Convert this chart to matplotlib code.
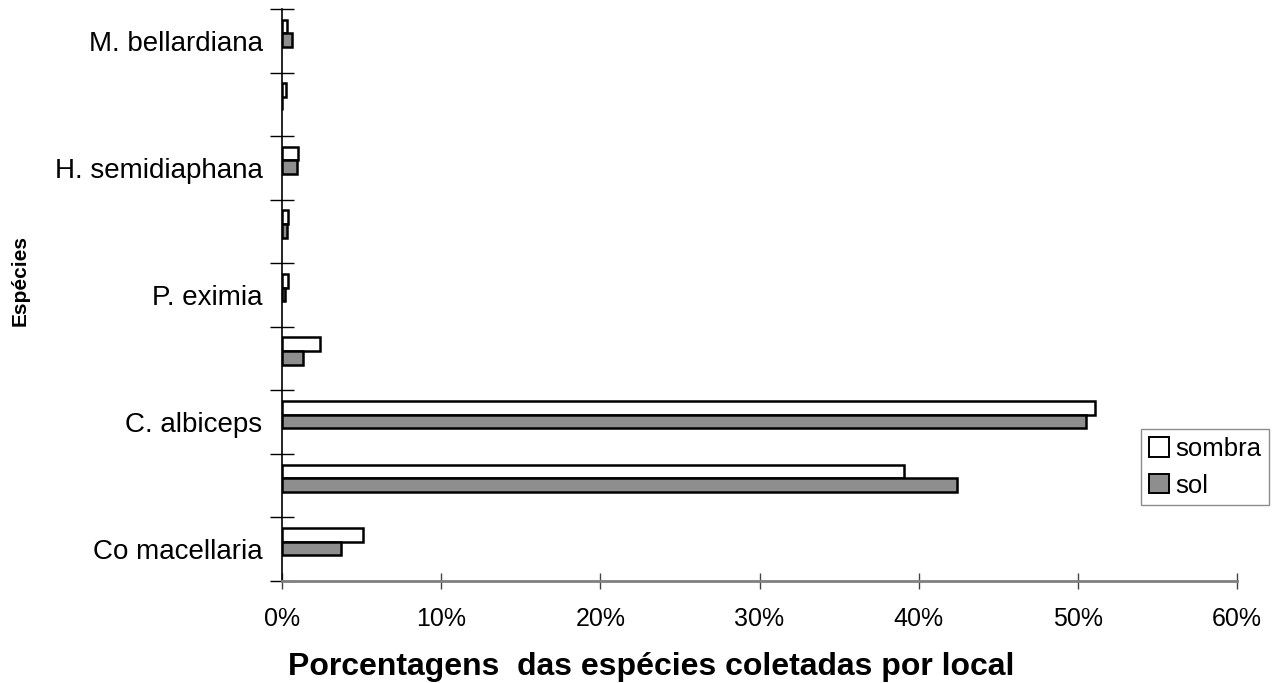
import matplotlib
matplotlib.use("Agg")
import matplotlib.pyplot as plt
import numpy as np
from matplotlib.patches import Patch

plt.rcParams['font.family'] = ['Liberation Sans', 'DejaVu Sans']

# Species (bottom to top); only every other name is printed on the axis
especies = ["Co macellaria", "", "C. albiceps", "", "P. eximia", "",
            "H. semidiaphana", "", "M. bellardiana"]
sombra = [5.1, 39.1, 51.1, 2.4, 0.4, 0.4, 1.0, 0.25, 0.3]
sol = [3.7, 42.4, 50.5, 1.3, 0.2, 0.3, 0.97, 0.0, 0.6]
xticks = [0, 10, 20, 30, 40, 50, 60]
series_names = ["sombra", "sol"]

W, H = 1274, 683
fig = plt.figure(figsize=(W / 100, H / 100), dpi=100)
ax = fig.add_axes([282 / W, 1 - 581 / H, (1237 - 282) / W, (581 - 9) / H])

n = len(especies)
idx = np.arange(n)
bar_h = 0.215
shift = 0.118
sol_color = "#8e8e8e"

ax.barh(idx + shift + bar_h / 2, sombra, height=bar_h, color="white",
        edgecolor="black", linewidth=1.8, label=series_names[0], zorder=3)
ax.barh(idx + shift - bar_h / 2, sol, height=bar_h, color=sol_color,
        edgecolor="black", linewidth=1.8, label=series_names[1], zorder=3)

ax.set_xlim(0, 60)
ax.set_ylim(-0.5, n - 0.5)

# category boundaries as crossing ticks, names centred on the categories
ax.set_yticks(np.arange(n + 1) - 0.5)
ax.set_yticklabels([])
ax.tick_params(axis="y", which="major", direction="inout", length=17,
               width=1.0, color="black")
ax.set_yticks(idx, minor=True)
ax.set_yticklabels(especies, minor=True, fontsize=20)
ax.tick_params(axis="y", which="minor", length=0, pad=14)

ax.set_xticks(xticks)
ax.set_xticklabels([f"{v}%" for v in xticks], fontsize=18)
ax.tick_params(axis="x", direction="inout", length=11, width=1.0,
               color="#444444", pad=13)

for s in ("top", "right"):
    ax.spines[s].set_visible(False)
ax.spines["left"].set_color("black")
ax.spines["left"].set_linewidth(1.2)
ax.spines["bottom"].set_color("#808080")
ax.spines["bottom"].set_linewidth(2.0)

fig.text(651 / W, 1 - 667 / H, "Porcentagens  das espécies coletadas por local",
         ha="center", va="center", fontsize=23, fontweight="bold")
fig.text(20 / W, 1 - 280 / H, "Espécies", ha="center", va="center",
         rotation=90, fontsize=15, fontweight="bold")

handles = [Patch(facecolor="white", edgecolor="black", linewidth=1.4),
           Patch(facecolor=sol_color, edgecolor="black", linewidth=1.4)]
leg = fig.legend(handles, series_names, loc="upper left",
                 bbox_to_anchor=(1141 / W, 1 - 429 / H), fontsize=18.5,
                 frameon=True, fancybox=False, borderpad=0.3,
                 handlelength=0.8, handleheight=0.8, handletextpad=0.25,
                 labelspacing=0.5, borderaxespad=0)
leg.get_frame().set_edgecolor("#707070")
leg.get_frame().set_linewidth(1.0)

fig.savefig("out.png", dpi=100)
